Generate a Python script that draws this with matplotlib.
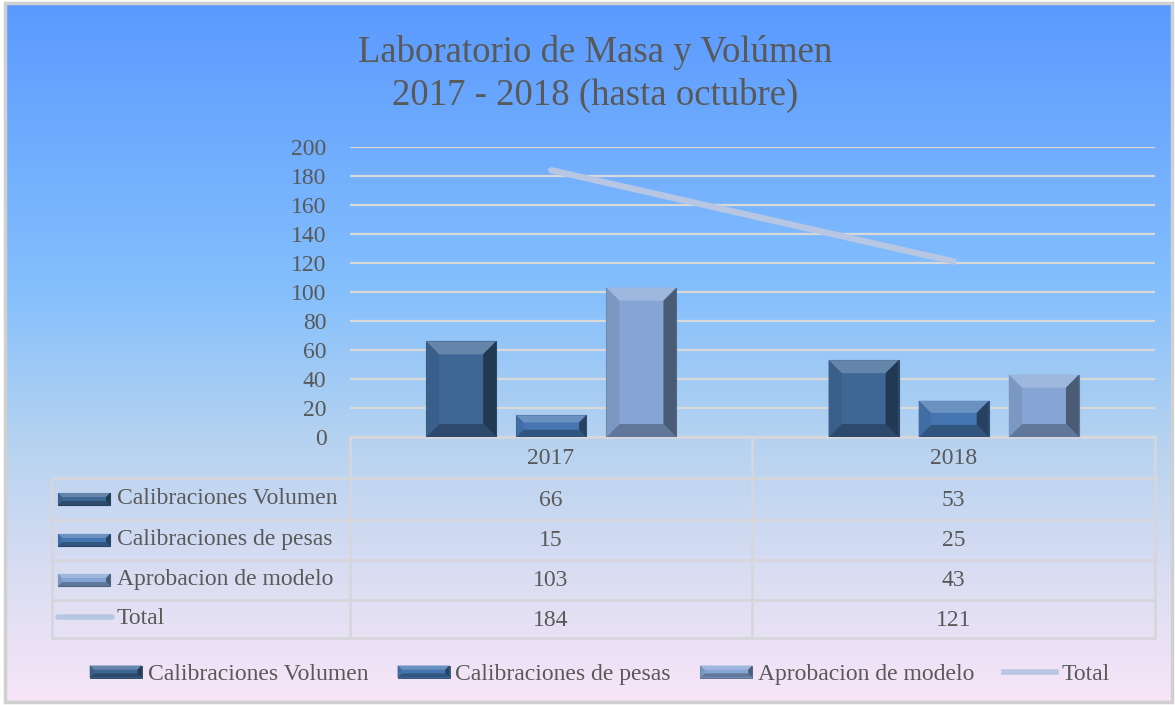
import matplotlib.pyplot as plt
from matplotlib.colors import LinearSegmentedColormap, to_rgb
from matplotlib.legend_handler import HandlerBase
from matplotlib.lines import Line2D
from matplotlib.patches import Patch, Polygon, Rectangle
import numpy as np

years = ["2017", "2018"]
series = ["Calibraciones Volumen", "Calibraciones de pesas", "Aprobacion de modelo"]
cal_volumen = [66, 53]
cal_pesas = [15, 25]
aprob_modelo = [103, 43]
total = [184, 121]
yticks = [0, 20, 40, 60, 80, 100, 120, 140, 160, 180, 200]

colors = ["#3e6796", "#4676b2", "#86a5d4"]
total_color = "#b7c7e3"
text_color = "#595959"
grid_color = "#d9d9d9"

plt.rcParams['font.family'] = ['Liberation Serif', 'DejaVu Serif']

W, H = 1175, 705
fig = plt.figure(figsize=(W / 100, H / 100), dpi=100)


def mix(c, other, t):
    c = np.array(to_rgb(c))
    return tuple(c * (1 - t) + np.array(other) * t)


def bevel_polys(x0, y0, x1, y1, bx, by, color):
    # flat face plus four bevel trapezoids (light top, dark right)
    light = mix(color, (1, 1, 1), 0.2)
    left = mix(color, (0, 0, 0), 0.08)
    bottom = mix(color, (0, 0, 0), 0.28)
    right = mix(color, (0, 0, 0), 0.45)
    return [
        Polygon([(x0, y1), (x1, y1), (x1 - bx, y1 - by), (x0 + bx, y1 - by)], closed=True, fc=light, ec='none'),
        Polygon([(x0, y0), (x1, y0), (x1 - bx, y0 + by), (x0 + bx, y0 + by)], closed=True, fc=bottom, ec='none'),
        Polygon([(x0, y0), (x0, y1), (x0 + bx, y1 - by), (x0 + bx, y0 + by)], closed=True, fc=left, ec='none'),
        Polygon([(x1, y0), (x1, y1), (x1 - bx, y1 - by), (x1 - bx, y0 + by)], closed=True, fc=right, ec='none'),
    ]


class BevelHandler(HandlerBase):
    def create_artists(self, legend, orig_handle, xdescent, ydescent, width, height, fontsize, trans):
        h = 12 * 0.72  # points
        y0 = -ydescent + (height - h) / 2
        x0 = -xdescent
        c = orig_handle.get_facecolor()
        face = Rectangle((x0, y0), width, h, fc=c, ec=mix(c, (0, 0, 0), 0.4), lw=0.6, transform=trans)
        arts = [face]
        for p in bevel_polys(x0, y0, x0 + width, y0 + h, 3, 3, c[:3]):
            p.set_transform(trans)
            arts.append(p)
        return arts


# background layer in pixel coordinates
bg = fig.add_axes([0, 0, 1, 1], zorder=0)
bg.set_xlim(0, W)
bg.set_ylim(H, 0)
bg.axis('off')
grad = LinearSegmentedColormap.from_list(
    "bg", [(0, "#5a9aff"), (0.42, "#86c0fc"), (0.62, "#b4d2f0"), (0.85, "#dfdff3"), (1.0, "#f8e5f8")])
bg.imshow(np.linspace(0, 1, 256).reshape(-1, 1), cmap=grad, aspect='auto',
          extent=(5, W - 3, H - 3, 3), zorder=0)
bg.add_patch(Rectangle((5, 3), W - 8, H - 6, fill=False, ec="#d0d0d0", lw=2.5, zorder=1))

# main chart
ax_l, ax_r, ax_t, ax_b = 350, 1155, 147, 437
ax = fig.add_axes([ax_l / W, 1 - ax_b / H, (ax_r - ax_l) / W, (ax_b - ax_t) / H], zorder=1)
ax.set_facecolor('none')
ax.set_xlim(-0.5, len(years) - 0.5)
ax.set_ylim(0, 200)
for s in ax.spines.values():
    s.set_visible(False)
ax.set_yticks(yticks)
ax.tick_params(axis='y', length=0, pad=17, labelsize=17, labelcolor=text_color)
ax.set_xticks([])
ax.grid(axis='y', color=grid_color, lw=1.6, zorder=0)
ax.set_axisbelow(True)

px_x = (ax_r - ax_l) / len(years)
px_y = (ax_b - ax_t) / 200
x = np.arange(len(years))
width = 0.174
offsets = [-0.224, 0, 0.224]
for vals, off, c in zip([cal_volumen, cal_pesas, aprob_modelo], offsets, colors):
    bars = ax.bar(x + off, vals, width, color=c, edgecolor=mix(c, (0, 0, 0), 0.3), linewidth=0.8, zorder=2)
    for b in bars:
        x0, x1 = b.get_x(), b.get_x() + b.get_width()
        h = b.get_height()
        bpx = min(13, h * px_y / 3)
        for p in bevel_polys(x0, 0, x1, h, bpx / px_x, bpx / px_y, c):
            p.set_zorder(3)
            ax.add_patch(p)
ax.plot(x, total, color=total_color, lw=4.5, solid_capstyle='round', zorder=4)

# title
bg.text(595, 52, "Laboratorio de Masa y Volúmen", ha='center', va='center', fontsize=26.5, color=text_color)
bg.text(595, 95, "2017 - 2018 (hasta octubre)", ha='center', va='center', fontsize=26.5, color=text_color)

# data table
tab_l = 52
col_x = [350, 752, 1155]
row_y = [437, 478, 520, 560, 600, 638]
lw_t = 2
tc = "#d6d6dc"
bg.plot([col_x[0], col_x[-1]], [row_y[0], row_y[0]], color=tc, lw=lw_t, zorder=2)
for yy in row_y[1:]:
    bg.plot([tab_l, col_x[-1]], [yy, yy], color=tc, lw=lw_t, zorder=2)
for xx in col_x:
    bg.plot([xx, xx], [row_y[0], row_y[-1]], color=tc, lw=lw_t, zorder=2)
bg.plot([tab_l, tab_l], [row_y[1], row_y[-1]], color=tc, lw=lw_t, zorder=2)

for j, yr in enumerate(years):
    bg.text((col_x[j] + col_x[j + 1]) / 2, (row_y[0] + row_y[1]) / 2 + 1, yr,
            ha='center', va='center', fontsize=17, color=text_color, zorder=3)

rows = [cal_volumen, cal_pesas, aprob_modelo, total]
names = series + ["Total"]
for i, (name, vals) in enumerate(zip(names, rows)):
    yc = (row_y[i + 1] + row_y[i + 2]) / 2
    if i < 3:
        c = colors[i]
        bg.add_patch(Rectangle((58, yc - 6), 52, 12, fc=c, ec=mix(c, (0, 0, 0), 0.4), lw=0.8, zorder=3))
        for p in bevel_polys(58, yc + 6, 110, yc - 6, 4, -4, c):
            p.set_zorder(3)
            bg.add_patch(p)
    else:
        bg.plot([58, 112], [yc - 2, yc - 2], color=total_color, lw=4, solid_capstyle='round', zorder=3)
    bg.text(117, yc - 1, name, ha='left', va='center', fontsize=17, color=text_color, zorder=3)
    for j, v in enumerate(vals):
        bg.text((col_x[j] + col_x[j + 1]) / 2, yc + 1, str(v),
                ha='center', va='center', fontsize=17, color=text_color, zorder=3)

# legend
handles = [Patch(facecolor=c) for c in colors] + [Line2D([], [], color=total_color, lw=4)]
fig.legend(handles, names, loc='center', bbox_to_anchor=(600 / W, 1 - 674 / H), ncol=4,
           frameon=False, fontsize=17, labelcolor=text_color, handlelength=2.2,
           handletextpad=0.25, columnspacing=1.25,
           handler_map={Patch: BevelHandler()})

fig.savefig("out.png", dpi=100)
